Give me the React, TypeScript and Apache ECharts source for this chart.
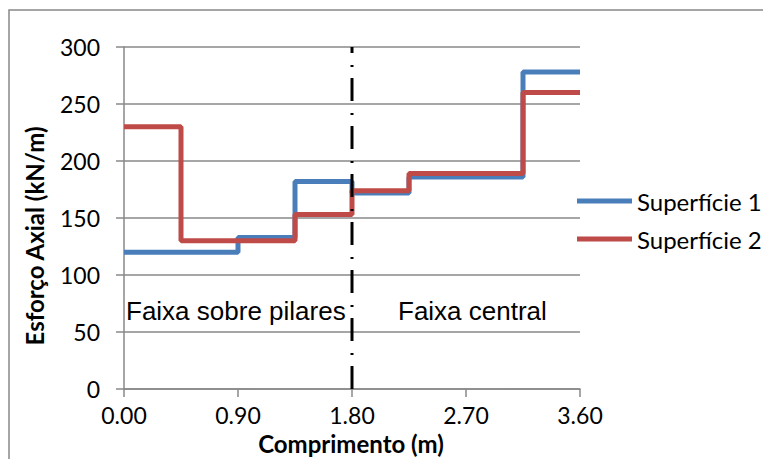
import React, { useEffect, useRef } from "react";
import * as echarts from "echarts";

const stepStarts = [0, 0.45, 0.9, 1.35, 1.8, 2.25, 2.7, 3.15, 3.6];
const superficie1 = [120, 120, 133, 182, 172, 186, 186, 278, 278];
const superficie2 = [230, 130, 130, 153, 174, 189, 189, 260, 260];
const dividerX = 1.8;
const dividerY = [0, 300];
const seriesNames = ["Superfície 1", "Superfície 2"];
const regionLabels = ["Faixa sobre pilares", "Faixa central"];

export default function App() {
  const ref = useRef<HTMLDivElement>(null);
  useEffect(() => {
    if (!ref.current) return;
    const chart = echarts.init(ref.current, undefined, { renderer: "svg" });
    const gray = "#888888";
    const tickFont = { fontFamily: "Lato", fontSize: 23, color: "#000" };
    chart.setOption({
      animation: false,
      backgroundColor: "#fff",
      grid: { left: 124, right: 183, top: 47, bottom: 70 },
      xAxis: {
        type: "value",
        min: 0,
        max: 3.6,
        interval: 0.9,
        axisLine: { show: true, lineStyle: { color: gray, width: 1.5 } },
        axisTick: { show: true, length: 8, lineStyle: { color: gray, width: 1.5 } },
        splitLine: { show: false },
        axisLabel: { ...tickFont, margin: 14, formatter: (v: number) => v.toFixed(2) },
      },
      yAxis: {
        type: "value",
        min: 0,
        max: 300,
        interval: 50,
        axisLine: { show: true, lineStyle: { color: gray, width: 1.5 } },
        axisTick: { show: true, length: 8, lineStyle: { color: gray, width: 1.5 } },
        splitLine: { show: true, lineStyle: { color: gray, width: 1.5 } },
        axisLabel: { ...tickFont, margin: 24 },
      },
      legend: {
        orient: "vertical",
        left: 572,
        top: 184,
        itemWidth: 55,
        itemHeight: 5,
        itemGap: 14,
        icon: "rect",
        data: seriesNames,
        textStyle: { fontFamily: "Lato", fontSize: 24, color: "#000" },
      },
      series: [
        {
          name: seriesNames[0],
          type: "line",
          step: "end",
          symbol: "none",
          color: "#4a7ebb",
          lineStyle: { width: 5, color: "#4a7ebb" },
          data: stepStarts.map((x, i) => [x, superficie1[i]]),
        },
        {
          name: seriesNames[1],
          type: "line",
          step: "end",
          symbol: "none",
          color: "#be4b48",
          lineStyle: { width: 5, color: "#be4b48" },
          data: stepStarts.map((x, i) => [x, superficie2[i]]),
        },
        {
          name: "divisor",
          type: "line",
          symbol: "none",
          silent: true,
          z: 5,
          lineStyle: { width: 3, color: "#000", type: [23, 11, 2, 12] },
          data: dividerY.map((y) => [dividerX, y]),
        },
      ],
      graphic: [
        {
          type: "rect",
          shape: { x: 9, y: 10, width: 800, height: 500 },
          style: { fill: "none", stroke: gray, lineWidth: 1.5 },
          silent: true,
        },
        {
          type: "text",
          x: 126,
          y: 311,
          style: {
            text: regionLabels[0],
            font: "26px 'Liberation Sans'",
            fill: "#000",
            verticalAlign: "middle",
          },
        },
        {
          type: "text",
          x: 398,
          y: 311,
          style: {
            text: regionLabels[1],
            font: "26px 'Liberation Sans'",
            fill: "#000",
            verticalAlign: "middle",
          },
        },
        {
          type: "text",
          x: 351,
          y: 443,
          style: {
            text: "Comprimento (m)",
            font: "bold 24px Lato",
            fill: "#000",
            align: "center",
            verticalAlign: "middle",
          },
        },
        {
          type: "text",
          x: 34,
          y: 236,
          rotation: Math.PI / 2,
          style: {
            text: "Esforço Axial (kN/m)",
            font: "bold 24px Lato",
            fill: "#000",
            align: "center",
            verticalAlign: "middle",
          },
        },
      ],
    });
    return () => chart.dispose();
  }, []);
  return (
    <div
      ref={ref}
      style={{ position: "fixed", left: 0, top: 0, width: 763, height: 459 }}
    />
  );
}
